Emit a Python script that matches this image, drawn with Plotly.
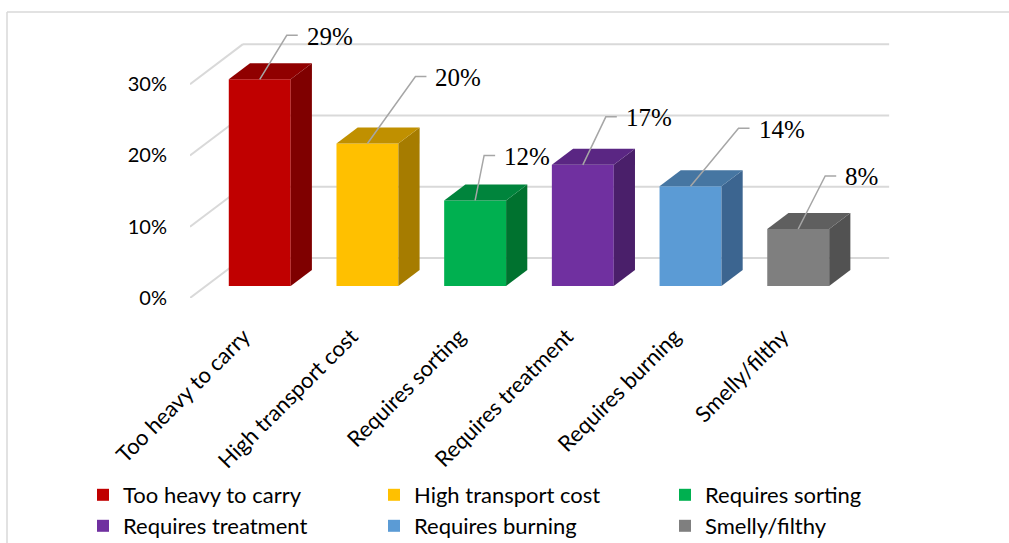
import plotly.graph_objects as go

# ---- data ----
categories = [
    "Too heavy to carry",
    "High transport cost",
    "Requires sorting",
    "Requires treatment",
    "Requires burning",
    "Smelly/filthy",
]
values = [29, 20, 12, 17, 14, 8]
y_ticks = [0, 10, 20, 30]
y_tick_labels = ["0%", "10%", "20%", "30%"]

# ---- styling ----
front_colors = ["#C00000", "#FFC000", "#00B050", "#7030A0", "#5B9BD5", "#7F7F7F"]
top_colors = ["#900000", "#C09000", "#00843C", "#5A2683", "#4676A2", "#5F5F5F"]
side_colors = ["#7F0000", "#A67C00", "#00722F", "#4A1F6A", "#3C6590", "#525252"]

# leader line elbows, in px to the right of / above the top-front centre of each bar
leader_dx = [27, 48, 9, 23, 48, 27]
leader_dy = [44, 67, 45, 48, 58, 53]
LEADER_TAIL = 11  # px, horizontal stub before the label

W, H = 1009, 543
M_L, M_R, M_T, M_B = 190, 119, 20, 245
X_RANGE = [-0.5, 6.0]
Y_RANGE = [0, 39]
plot_w = W - M_L - M_R
plot_h = H - M_T - M_B
px_x = plot_w / (X_RANGE[1] - X_RANGE[0])
px_y = plot_h / (Y_RANGE[1] - Y_RANGE[0])

# oblique projection of the depth axis (floor depth), in data units
DEPTH_X = 53 / px_x
DEPTH_Y = 40 / px_y
BAR_FRONT, BAR_BACK = 0.3, 0.7
BAR_W = 0.575
GRID = "#D9D9D9"
LABEL_FONT = "Lato"

# legend grid: three columns, two rows (container px)
LEGEND_COL_X = [83, 374, 665]
LEGEND_ROW_Y = [474, 505]

fig = go.Figure()

for i, (cat, v) in enumerate(zip(categories, values)):
    cx = i + BAR_FRONT * DEPTH_X
    base = BAR_FRONT * DEPTH_Y
    xl, xr = cx - BAR_W / 2, cx + BAR_W / 2
    yb, yt = base, base + v
    ddx = (BAR_BACK - BAR_FRONT) * DEPTH_X
    ddy = (BAR_BACK - BAR_FRONT) * DEPTH_Y

    fig.add_trace(go.Bar(
        x=[cx], y=[v], base=[base], width=BAR_W,
        marker=dict(color=front_colors[i], line=dict(width=0)),
        name=cat, legend="legend" if i == 0 else f"legend{i + 1}",
        hoverinfo="skip",
    ))
    # right side face
    fig.add_trace(go.Scatter(
        x=[xr, xr + ddx, xr + ddx, xr, xr],
        y=[yb, yb + ddy, yt + ddy, yt, yb],
        fill="toself", fillcolor=side_colors[i], mode="lines",
        line=dict(width=0, color=side_colors[i]),
        showlegend=False, hoverinfo="skip",
    ))
    # top face
    fig.add_trace(go.Scatter(
        x=[xl, xr, xr + ddx, xl + ddx, xl],
        y=[yt, yt, yt + ddy, yt + ddy, yt],
        fill="toself", fillcolor=top_colors[i], mode="lines",
        line=dict(width=0, color=top_colors[i]),
        showlegend=False, hoverinfo="skip",
    ))

# data labels with elbow leader lines
annotations = []
for i, v in enumerate(values):
    cx = i + BAR_FRONT * DEPTH_X
    yt = BAR_FRONT * DEPTH_Y + v
    ex = cx + leader_dx[i] / px_x
    ey = yt + leader_dy[i] / px_y
    tx = ex + LEADER_TAIL / px_x
    fig.add_trace(go.Scatter(
        x=[cx, ex, tx], y=[yt, ey, ey], mode="lines",
        line=dict(color="#A6A6A6", width=1.5),
        showlegend=False, hoverinfo="skip",
    ))
    annotations.append(dict(
        x=tx, y=ey, xref="x", yref="y", text=f"{v}%", showarrow=False,
        xanchor="left", yanchor="middle", xshift=7, yshift=-1,
        font=dict(family="Liberation Serif", size=25, color="#000000"),
    ))

# back wall and side wall gridlines
shapes = []
for t in y_ticks:
    shapes.append(dict(
        type="line", xref="x", yref="y", layer="below",
        x0=X_RANGE[0] + DEPTH_X, x1=len(categories) - 0.5 + DEPTH_X,
        y0=t + DEPTH_Y, y1=t + DEPTH_Y,
        line=dict(color=GRID, width=2),
    ))
    shapes.append(dict(
        type="line", xref="x", yref="y", layer="below",
        x0=X_RANGE[0], x1=X_RANGE[0] + DEPTH_X,
        y0=t, y1=t + DEPTH_Y,
        line=dict(color=GRID, width=2),
    ))

# chart area frame (left and top edges)
def paper_x(px):
    return (px - M_L) / plot_w

def paper_y(py):
    return (H - M_B - py) / plot_h

shapes.append(dict(type="line", xref="paper", yref="paper",
                   x0=paper_x(7), x1=paper_x(W + 5), y0=paper_y(12), y1=paper_y(12),
                   line=dict(color=GRID, width=1.5)))
shapes.append(dict(type="line", xref="paper", yref="paper",
                   x0=paper_x(7), x1=paper_x(7), y0=paper_y(12), y1=paper_y(H + 5),
                   line=dict(color=GRID, width=1.5)))

legend_common = dict(
    orientation="h", xref="container", yref="container",
    xanchor="left", yanchor="top",
    font=dict(family=LABEL_FONT, size=22, color="#000000"),
    bgcolor="rgba(0,0,0,0)",
)
legends = {}
for i in range(len(categories)):
    key = "legend" if i == 0 else f"legend{i + 1}"
    legends[key] = dict(
        legend_common,
        x=LEGEND_COL_X[i % 3] / W,
        y=1 - LEGEND_ROW_Y[i // 3] / H,
    )

fig.update_layout(
    width=W, height=H,
    margin=dict(l=M_L, r=M_R, t=M_T, b=M_B, pad=0, autoexpand=False),
    paper_bgcolor="#FFFFFF", plot_bgcolor="#FFFFFF",
    barmode="overlay",
    showlegend=True,
    xaxis=dict(
        range=X_RANGE, tickmode="array",
        tickvals=list(range(len(categories))), ticktext=categories,
        tickangle=-45, ticks="outside", ticklen=16, tickcolor="rgba(0,0,0,0)",
        showgrid=False, zeroline=False, showline=False, automargin=False,
        tickfont=dict(family=LABEL_FONT, size=22, color="#000000"),
        fixedrange=True,
    ),
    yaxis=dict(
        range=Y_RANGE, tickmode="array",
        tickvals=y_ticks, ticktext=y_tick_labels,
        ticks="outside", ticklen=18, tickcolor="rgba(0,0,0,0)",
        showgrid=False, zeroline=False, showline=False, automargin=False,
        tickfont=dict(family=LABEL_FONT, size=20, color="#000000"),
        fixedrange=True,
    ),
    shapes=shapes,
    annotations=annotations,
    **legends,
)

fig.write_html("out.html")
